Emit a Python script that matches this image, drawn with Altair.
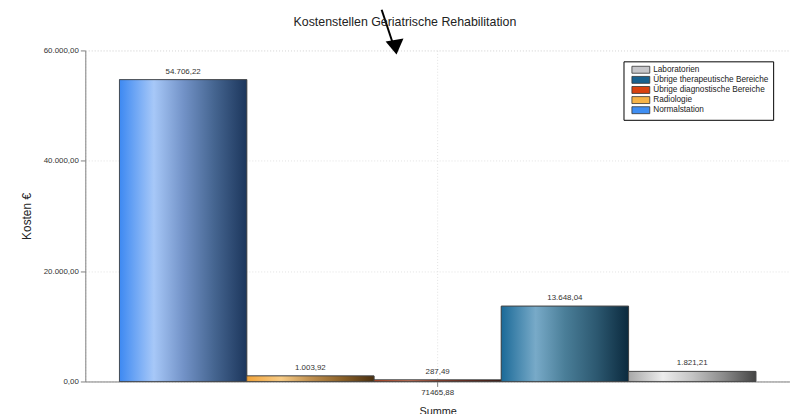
import altair as alt
import pandas as pd

# ---- data ----
kategorien = ["Normalstation", "Radiologie", "Übrige diagnostische Bereiche",
              "Übrige therapeutische Bereiche", "Laboratorien"]
werte = [54706.22, 1003.92, 287.49, 13648.04, 1821.21]
summe_label = "71465,88"
legend_order = ["Laboratorien", "Übrige therapeutische Bereiche",
                "Übrige diagnostische Bereiche", "Radiologie", "Normalstation"]
legend_colors = ["#c6c6ca", "#18618f", "#d9420f", "#f6b448", "#3f8ef2"]
y_ticks = [0, 20000, 40000, 60000]

# horizontal shading of each bar (left -> right)
gradients = {
    "Normalstation": ["#3d89f2", "#a7c8f8", "#7393c8", "#44648f", "#1c365c"],
    "Radiologie": ["#f2a43a", "#f8cc86", "#c09050", "#8a6028", "#4a3010"],
    "Übrige diagnostische Bereiche": ["#c84018", "#e07a58", "#a04028", "#6a2414", "#3a1008"],
    "Übrige therapeutische Bereiche": ["#1b6a98", "#78aac8", "#4a7e98", "#2c5870", "#0b2a3e"],
    "Laboratorien": ["#a8a8a8", "#ececec", "#c4c4c4", "#8a8a8a", "#444444"],
}
stop_pos = [0.0, 0.27, 0.5, 0.75, 1.0]

df = pd.DataFrame({"kat": kategorien, "wert": werte, "summe": [summe_label] * len(kategorien)})

base = alt.Chart(df)

x_enc = alt.X("summe:N", title="Summe",
              scale=alt.Scale(paddingInner=0, paddingOuter=0.0537),
              axis=alt.Axis(labelAngle=0, labelFontSize=8, labelColor="#333333",
                            labelPadding=2, tickSize=5, tickColor="#808080",
                            domainColor="#808080", titleFontSize=11,
                            titleFontWeight="normal", titleColor="#222222",
                            titlePadding=9, grid=True, gridColor="#e2e2e2",
                            gridDash=[1, 2]))
xo_enc = alt.XOffset("kat:N", sort=kategorien,
                     scale=alt.Scale(domain=kategorien, paddingInner=0, paddingOuter=0))
y_enc = alt.Y("wert:Q", title="Kosten €",
              scale=alt.Scale(domain=[0, 60000], nice=False),
              axis=alt.Axis(values=y_ticks, format=",.2f", labelFontSize=8,
                            labelColor="#333333", tickSize=5, tickColor="#808080",
                            domainColor="#808080", titleFontSize=12,
                            titleFontWeight="normal", titleColor="#222222",
                            titlePadding=10, grid=True, gridColor="#e2e2e2",
                            gridDash=[1, 2]))

swatch = "M0,-0.875H4.5V0.875H0Z"

solid = base.mark_bar(stroke="#444444", strokeWidth=0.8).encode(
    x=x_enc, xOffset=xo_enc, y=y_enc,
    color=alt.Color("kat:N",
                    scale=alt.Scale(domain=legend_order, range=legend_colors),
                    legend=alt.Legend(title=None, orient="none", legendX=543, legendY=11,
                                      padding=4, strokeColor="#000000", fillColor="white",
                                      symbolType=swatch, symbolSize=64,
                                      symbolStrokeColor="#333333", symbolStrokeWidth=0.8,
                                      labelFontSize=8.3, labelColor="#222222",
                                      labelOffset=17, rowPadding=-0.8, labelLimit=300)),
)

layers = [solid]
for kat in kategorien:
    g = alt.Gradient(gradient="linear", x1=0, x2=1, y1=0, y2=0,
                     stops=[alt.GradientStop(offset=o, color=c)
                            for o, c in zip(stop_pos, gradients[kat])])
    layers.append(
        base.transform_filter(alt.datum.kat == kat)
        .mark_bar(fill=g, stroke="#444444", strokeWidth=0.8)
        .encode(x=x_enc, xOffset=xo_enc, y=y_enc)
    )

labels = base.mark_text(baseline="bottom", dy=-4, fontSize=8, color="#333333").encode(
    x=x_enc, xOffset=xo_enc, y=y_enc, text=alt.Text("wert:Q", format=",.2f")
)
layers.append(labels)

# overlaid arrow annotation
anno = alt.Chart(pd.DataFrame({"a": [0]}))
arrow_line = anno.mark_rule(color="black", strokeWidth=2).encode(
    x=alt.value(299), y=alt.value(-41), x2=alt.value(310), y2=alt.value(-8))
arrow_head = anno.mark_point(shape="M-9,-3L9,-6L2,10Z", filled=True, fill="black",
                             opacity=1, size=4, strokeWidth=0).encode(
    x=alt.value(312), y=alt.value(-6))
layers += [arrow_line, arrow_head]

chart = alt.layer(*layers).properties(
    width=711, height=334,
    title=alt.TitleParams("Kostenstellen Geriatrische Rehabilitation", fontSize=12.5,
                          fontWeight="normal", color="#222222", anchor="middle",
                          dx=-33, dy=20, offset=0),
    autosize=alt.AutoSizeParams(type="none"),
    padding={"left": 78, "top": 41, "right": 0, "bottom": 31},
    background="white",
).configure(
    font="Liberation Sans",
    locale={"number": {"decimal": ",", "thousands": ".", "grouping": [3],
                       "currency": ["", " €"]}},
).configure_view(stroke="#e2e2e2", strokeDash=[1, 2])

chart.save("out.html", embed_options={"renderer": "svg", "actions": False})
